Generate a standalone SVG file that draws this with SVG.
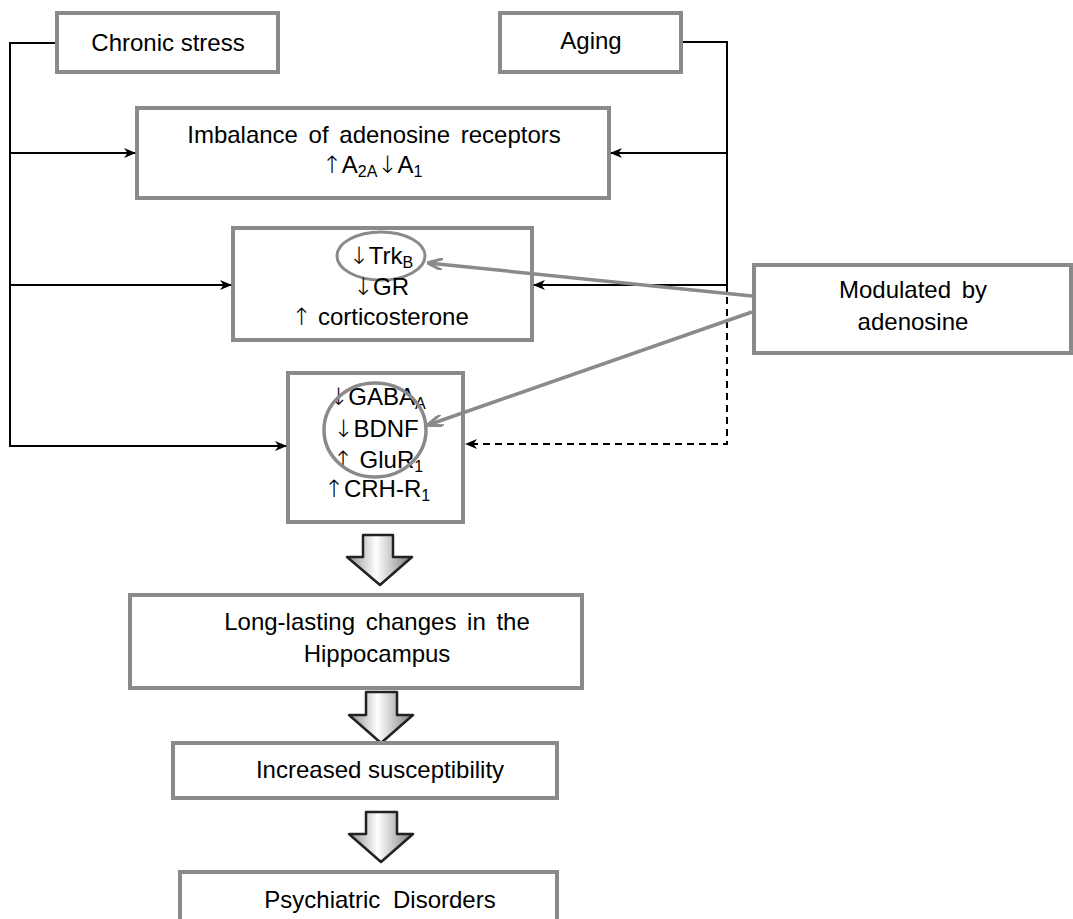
<svg xmlns="http://www.w3.org/2000/svg" width="1073" height="919" viewBox="0 0 1073 919">
<style>
.box{fill:#fff;stroke:#8a8a8a;stroke-width:4}
.t{font-family:"Liberation Sans",Arial,"DejaVu Sans",sans-serif;font-size:24px;fill:#000;text-anchor:middle}
.ar{font-family:"DejaVu Sans",sans-serif;font-weight:200}
.sub{font-size:16px}
.ln{fill:none;stroke:#000;stroke-width:2}
.gl{fill:none;stroke:#8a8a8a;stroke-width:3.5}
.blk{stroke:#222;stroke-width:2.5;fill:url(#bg);stroke-linejoin:round}
</style>
<defs>
<marker id="ah" viewBox="0 0 12 10" refX="11" refY="5" markerWidth="12" markerHeight="10" markerUnits="userSpaceOnUse" orient="auto">
<path d="M0,0 L12,5 L0,10 L3.5,5 z" fill="#000"/>
</marker>
<marker id="gh" viewBox="0 0 16 12" refX="15" refY="6" markerWidth="16" markerHeight="12" markerUnits="userSpaceOnUse" orient="auto">
<path d="M0,0 L16,6 L0,12" fill="none" stroke="#8a8a8a" stroke-width="3"/>
</marker>
<linearGradient id="bg" x1="0" x2="1" y1="0" y2="0">
<stop offset="0" stop-color="#8c8c8c"/>
<stop offset="0.45" stop-color="#ffffff"/>
<stop offset="1" stop-color="#7a7a7a"/>
</linearGradient>
</defs>

<g id="chronic-stress">
<rect class="box" x="57" y="13" width="221" height="59"/>
<text class="t" x="168" y="51">Chronic stress</text>
</g>

<g id="aging">
<rect class="box" x="500" y="13" width="181" height="59"/>
<text class="t" x="591" y="49">Aging</text>
</g>

<g id="imbalance">
<rect class="box" x="137" y="108" width="472" height="90"/>
<text class="t" x="374" y="143" word-spacing="4">Imbalance of adenosine receptors</text>
<text class="t" x="372" y="173"><tspan class="ar">↑</tspan>A<tspan class="sub" dy="4">2A</tspan><tspan class="ar" dy="-4">↓</tspan>A<tspan class="sub" dy="4">1</tspan></text>
</g>

<g id="trk">
<rect class="box" x="233" y="228" width="299" height="112"/>
<ellipse cx="381" cy="256" rx="44" ry="24" fill="none" stroke="#8a8a8a" stroke-width="3"/>
<text class="t" x="381" y="264"><tspan class="ar">↓</tspan>Trk<tspan class="sub" dy="4">B</tspan></text>
<text class="t" x="381" y="295"><tspan class="ar">↓</tspan>GR</text>
<text class="t" x="380" y="325"><tspan class="ar">↑</tspan> corticosterone</text>
</g>

<g id="gaba">
<rect class="box" x="288" y="373" width="175" height="149"/>
<text class="t" x="377" y="405"><tspan class="ar">↓</tspan>GABA<tspan class="sub" dy="4">A</tspan></text>
<text class="t" x="376" y="437"><tspan class="ar">↓</tspan>BDNF</text>
<text class="t" x="378" y="468"><tspan class="ar">↑</tspan> GluR<tspan class="sub" dy="4">1</tspan></text>
<text class="t" x="377" y="497"><tspan class="ar">↑</tspan>CRH-R<tspan class="sub" dy="4">1</tspan></text>
<ellipse cx="375" cy="430" rx="51" ry="47" fill="none" stroke="#8a8a8a" stroke-width="3.5"/>
</g>

<g id="modulated">
<rect class="box" x="754" y="265" width="317" height="88"/>
<text class="t" x="913" y="298" word-spacing="4">Modulated by</text>
<text class="t" x="913" y="330">adenosine</text>
</g>

<g id="arrow1">
<polygon class="blk" points="363,535 393,535 393,557 412,557 380,585 347,557 363,557"/>
</g>

<g id="long-lasting">
<rect class="box" x="130" y="595" width="452" height="93"/>
<text class="t" x="377" y="630" word-spacing="4">Long-lasting changes in the</text>
<text class="t" x="377" y="662">Hippocampus</text>
</g>

<g id="arrow2">
<polygon class="blk" points="366,692 397,692 397,715 413,715 381,743 349,715 366,715"/>
</g>

<g id="increased">
<rect class="box" x="173" y="743" width="384" height="55"/>
<text class="t" x="380" y="778">Increased susceptibility</text>
</g>

<g id="arrow3">
<polygon class="blk" points="366,812 397,812 397,834 413,834 381,862 349,834 366,834"/>
</g>

<g id="psychiatric">
<rect class="box" x="180" y="872" width="377" height="60"/>
<text class="t" x="380" y="908" word-spacing="6">Psychiatric Disorders</text>
</g>

<g id="connectors">
<polyline class="ln" points="55,43 10,43 10,446 286,446" marker-end="url(#ah)"/>
<line class="ln" x1="10" y1="153" x2="135" y2="153" marker-end="url(#ah)"/>
<line class="ln" x1="10" y1="285" x2="231" y2="285" marker-end="url(#ah)"/>
<polyline class="ln" points="683,42 727,42 727,285"/>
<line class="ln" x1="727" y1="153" x2="611" y2="153" marker-end="url(#ah)"/>
<line class="ln" x1="727" y1="285" x2="534" y2="285" marker-end="url(#ah)"/>
<polyline class="ln" points="727,285 727,444 466,444" stroke-dasharray="7,5" marker-end="url(#ah)"/>
<line class="gl" x1="752" y1="296" x2="428" y2="263" marker-end="url(#gh)"/>
<line class="gl" x1="752" y1="312" x2="428" y2="425" marker-end="url(#gh)"/>
</g>
</svg>
